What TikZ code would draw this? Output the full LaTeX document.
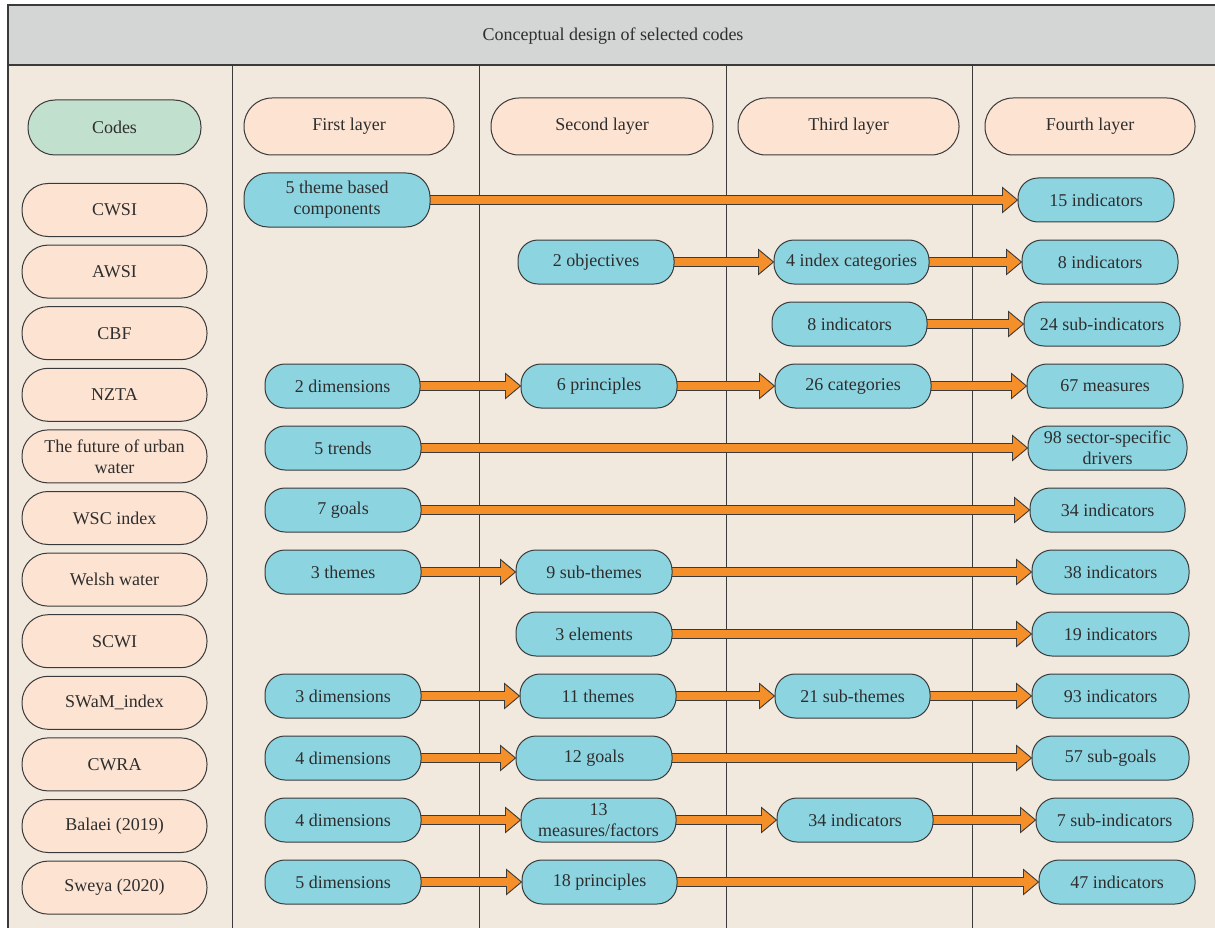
\documentclass[tikz,border=0pt]{standalone}
\usepackage{fontspec}
\setmainfont{Liberation Serif}
\usetikzlibrary{calc}
\definecolor{bgc}{HTML}{F2E9DE}
\definecolor{hdc}{HTML}{D4D6D6}
\definecolor{grc}{HTML}{C2E0CE}
\definecolor{pcc}{HTML}{FDE3D2}
\definecolor{blc}{HTML}{8DD4E1}
\definecolor{orc}{HTML}{F58F2A}
\definecolor{lnc}{HTML}{3A3A3A}
\definecolor{txc}{HTML}{2E2E2E}
\pgfdeclarelayer{bg}
\pgfdeclarelayer{arr}
\pgfsetlayers{bg,arr,main}
\newcommand\fat[2]{%
  \draw[fatarrow] let \p1=(#1.east), \p2=(#2.west) in
    (\x1-2pt,\y2+4.5pt) -- (\x2-15pt,\y2+4.5pt) -- (\x2-15pt,\y2+12.5pt) -- (\x2,\y2)
    -- (\x2-15pt,\y2-12.5pt) -- (\x2-15pt,\y2-4.5pt) -- (\x1-2pt,\y2-4.5pt) -- cycle;}
\begin{document}
\begin{tikzpicture}[x=1pt,y=1pt,
  every node/.style={font=\fontsize{18}{21}\selectfont, text=txc, align=center, inner sep=0pt},
  pill/.style={draw=lnc, line width=1pt, rounded corners=26pt, minimum height=53pt},
  codebox/.style={pill, fill=pcc, minimum width=185pt},
  layerbox/.style={pill, fill=pcc, rounded corners=28pt, minimum height=57pt},
  greenbox/.style={pill, fill=grc, rounded corners=27pt, minimum height=55pt, minimum width=173pt},
  bluebox/.style={draw=lnc, line width=1pt, fill=blc, rounded corners=20pt, minimum height=44pt},
  fatarrow/.style={fill=orc, draw=lnc, line width=0.9pt, line join=miter},
  frame/.style={draw=lnc, line width=1.3pt},
  colline/.style={draw=lnc, line width=1pt}]
\useasboundingbox (0,0) rectangle (1215,-928);
\clip (0,0) rectangle (1215,-928);
\begin{pgfonlayer}{bg}
  \fill[bgc] (8,-65) rectangle (1218,-940);
  \fill[hdc] (8,-5) rectangle (1218,-65);
  \draw[frame] (8,-940) -- (8,-5) -- (1218,-5) -- (1218,-940) -- cycle;
  \draw[frame] (8,-65) -- (1218,-65);
  \foreach \cx in {232,479,726,972} \draw[colline] (\cx,-65) -- (\cx,-940);
\end{pgfonlayer}
\node (title) at (613,-36) {Conceptual design of selected codes};
% headers
\node[greenbox] (codes) at (114.5,-127.5) {Codes};
\node[layerbox, minimum width=210pt] (L1) at (349,-126.5) {First layer};
\node[layerbox, minimum width=222pt] (L2) at (602,-126.5) {Second layer};
\node[layerbox, minimum width=221pt] (L3) at (848.5,-126.5) {Third layer};
\node[layerbox, minimum width=210pt] (L4) at (1090,-126.5) {Fourth layer};
% codes
\node[codebox] (c1) at (114.5,-210) {CWSI};
\node[codebox] (c2) at (114.5,-271.6) {AWSI};
\node[codebox] (c3) at (114.5,-333.2) {CBF};
\node[codebox] (c4) at (114.5,-394.8) {NZTA};
\node[codebox] (c5) at (114.5,-456.4) {The future of urban\\water};
\node[codebox] (c6) at (114.5,-518) {WSC index};
\node[codebox] (c7) at (114.5,-579.6) {Welsh water};
\node[codebox] (c8) at (114.5,-641.2) {SCWI};
\node[codebox] (c9) at (114.5,-702.8) {SWaM\_index};
\node[codebox] (c10) at (114.5,-764.4) {CWRA};
\node[codebox] (c11) at (114.5,-826) {Balaei (2019)};
\node[codebox] (c12) at (114.5,-887.6) {Sweya (2020)};
% row 1
\node[bluebox, minimum width=186pt, minimum height=54pt, rounded corners=24pt] (n1a) at (337,-200) {5 theme based\\components};
\node[bluebox, minimum width=156pt] (n1d) at (1096,-200) {15 indicators};
% row 2
\node[bluebox, minimum width=156pt] (n2b) at (596,-262) {2 objectives};
\node[bluebox, minimum width=155pt] (n2c) at (851.5,-262) {4 index categories};
\node[bluebox, minimum width=156pt] (n2d) at (1100,-262) {8 indicators};
% row 3
\node[bluebox, minimum width=155pt] (n3c) at (849.5,-324) {8 indicators};
\node[bluebox, minimum width=156pt] (n3d) at (1102,-324) {24 sub-indicators};
% row 4
\node[bluebox, minimum width=155pt] (n4a) at (342.5,-386) {2 dimensions};
\node[bluebox, minimum width=156pt] (n4b) at (599,-386) {6 principles};
\node[bluebox, minimum width=156pt] (n4c) at (853,-386) {26 categories};
\node[bluebox, minimum width=156pt] (n4d) at (1105,-386) {67 measures};
% row 5
\node[bluebox, minimum width=156pt] (n5a) at (343,-448) {5 trends};
\node[bluebox, minimum width=159pt] (n5d) at (1107.5,-448) {98 sector-specific\\drivers};
% row 6
\node[bluebox, minimum width=156pt] (n6a) at (343,-510) {7 goals};
\node[bluebox, minimum width=155pt] (n6d) at (1107.5,-510) {34 indicators};
% row 7
\node[bluebox, minimum width=156pt] (n7a) at (343,-572) {3 themes};
\node[bluebox, minimum width=156pt] (n7b) at (594,-572) {9 sub-themes};
\node[bluebox, minimum width=157pt] (n7d) at (1110.5,-572) {38 indicators};
% row 8
\node[bluebox, minimum width=156pt] (n8b) at (594,-634) {3 elements};
\node[bluebox, minimum width=157pt] (n8d) at (1110.5,-634) {19 indicators};
% row 9
\node[bluebox, minimum width=156pt] (n9a) at (343,-696) {3 dimensions};
\node[bluebox, minimum width=156pt] (n9b) at (598,-696) {11 themes};
\node[bluebox, minimum width=155pt] (n9c) at (852.5,-696) {21 sub-themes};
\node[bluebox, minimum width=157pt] (n9d) at (1110.5,-696) {93 indicators};
% row 10
\node[bluebox, minimum width=156pt] (n10a) at (343,-758) {4 dimensions};
\node[bluebox, minimum width=156pt] (n10b) at (594,-758) {12 goals};
\node[bluebox, minimum width=157pt] (n10d) at (1110.5,-758) {57 sub-goals};
% row 11
\node[bluebox, minimum width=156pt] (n11a) at (343,-820) {4 dimensions};
\node[bluebox, minimum width=155pt] (n11b) at (598.5,-820) {13\\measures/factors};
\node[bluebox, minimum width=156pt] (n11c) at (855,-820) {34 indicators};
\node[bluebox, minimum width=157pt] (n11d) at (1114.5,-820) {7 sub-indicators};
% row 12
\node[bluebox, minimum width=156pt] (n12a) at (343,-882) {5 dimensions};
\node[bluebox, minimum width=155pt] (n12b) at (599.5,-882) {18 principles};
\node[bluebox, minimum width=156pt] (n12d) at (1117,-882) {47 indicators};
% arrows
\begin{pgfonlayer}{arr}
  \fat{n1a}{n1d}
  \fat{n2b}{n2c} \fat{n2c}{n2d}
  \fat{n3c}{n3d}
  \fat{n4a}{n4b} \fat{n4b}{n4c} \fat{n4c}{n4d}
  \fat{n5a}{n5d}
  \fat{n6a}{n6d}
  \fat{n7a}{n7b} \fat{n7b}{n7d}
  \fat{n8b}{n8d}
  \fat{n9a}{n9b} \fat{n9b}{n9c} \fat{n9c}{n9d}
  \fat{n10a}{n10b} \fat{n10b}{n10d}
  \fat{n11a}{n11b} \fat{n11b}{n11c} \fat{n11c}{n11d}
  \fat{n12a}{n12b} \fat{n12b}{n12d}
\end{pgfonlayer}
\end{tikzpicture}
\end{document}
